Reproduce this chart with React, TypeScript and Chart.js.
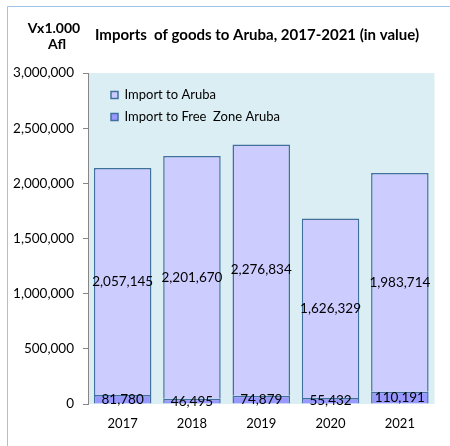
import React, { useEffect, useRef } from "react";
import { Chart, registerables } from "chart.js";

Chart.register(...registerables);

const years = ["2017", "2018", "2019", "2020", "2021"];
const importAruba = [2057145, 2201670, 2276834, 1626329, 1983714];
const importFreeZone = [81780, 46495, 74879, 55432, 110191];
const seriesNames = ["Import to Free  Zone Aruba", "Import to Aruba"];
const yMax = 3000000;
const yStep = 500000;
const titleText = "Imports  of goods to Aruba, 2017-2021 (in value)";
const unitTop = "Vx1.000";
const unitBottom = "Afl";

const FONT = "Lato, 'Liberation Sans', sans-serif";
const fmt = (v: number) => v.toLocaleString("en-US");

const decorPlugin = {
  id: "decor",
  afterLayout(chart: any) {
    const lg = chart.legend;
    const a = chart.chartArea;
    if (lg && a) {
      const h = lg.bottom - lg.top;
      lg.left = a.left + 14;
      lg.top = a.top + 6.5;
      lg.bottom = lg.top + h;
    }
  },
  beforeDraw(chart: any) {
    const { ctx, chartArea: a } = chart;
    ctx.save();
    ctx.fillStyle = "#ffffff";
    ctx.fillRect(0, 0, chart.width, chart.height);
    ctx.fillStyle = "#dbeef4";
    ctx.fillRect(a.left, a.top, a.right - a.left, a.bottom - a.top);
    ctx.strokeStyle = "#9dc3e6";
    ctx.lineWidth = 1;
    ctx.beginPath();
    ctx.moveTo(7.5, chart.height);
    ctx.lineTo(7.5, 6.5);
    ctx.lineTo(chart.width, 6.5);
    ctx.stroke();
    ctx.fillStyle = "#000000";
    ctx.font = `bold 15px ${FONT}`;
    ctx.textBaseline = "middle";
    ctx.textAlign = "left";
    ctx.fillText(titleText, 95, 35);
    ctx.font = `bold 14px ${FONT}`;
    ctx.textAlign = "center";
    ctx.fillText(unitTop, 54, 28);
    ctx.fillText(unitBottom, 57, 44);
    ctx.restore();
  },
  afterDatasetsDraw(chart: any) {
    const { ctx } = chart;
    ctx.save();
    ctx.fillStyle = "#000000";
    ctx.font = `13.5px ${FONT}`;
    ctx.textAlign = "center";
    ctx.textBaseline = "middle";
    chart.data.datasets.forEach((ds: any, i: number) => {
      const meta = chart.getDatasetMeta(i);
      meta.data.forEach((bar: any, j: number) => {
        const y = (bar.y + bar.base) / 2;
        ctx.fillText(fmt(ds.data[j]), bar.x, y);
      });
    });
    ctx.restore();
  },
};

export default function App() {
  const ref = useRef<HTMLCanvasElement | null>(null);
  useEffect(() => {
    document.body.style.margin = "0";
    const canvas = ref.current;
    if (!canvas) return;
    const border = "#41709c";
    const chart = new Chart(canvas, {
      type: "bar",
      data: {
        labels: years,
        datasets: [
          {
            label: seriesNames[0],
            data: importFreeZone,
            backgroundColor: "#9999ff",
            borderColor: border,
            borderWidth: 1.5,
            barPercentage: 0.83,
            categoryPercentage: 1,
          },
          {
            label: seriesNames[1],
            data: importAruba,
            backgroundColor: "#ccccff",
            borderColor: border,
            borderWidth: 1.5,
            barPercentage: 0.83,
            categoryPercentage: 1,
          },
        ],
      },
      options: {
        responsive: false,
        animation: false,
        layout: { padding: { left: 0, top: 73, right: 15.5, bottom: 0 } },
        plugins: {
          legend: {
            position: "chartArea" as any,
            align: "start",
            reverse: true,
            labels: {
              boxWidth: 7,
              boxHeight: 7,
              color: "#000000",
              font: { family: FONT, size: 13 },
              padding: 9,
            },
          },
          title: { display: false },
          tooltip: { enabled: false },
        },
        scales: {
          x: {
            stacked: true,
            grid: { display: false, drawTicks: false },
            border: { display: false },
            ticks: { color: "#000000", font: { family: FONT, size: 13 }, padding: 12 },
            afterFit: (s: any) => {
              s.height = 42;
            },
          },
          y: {
            stacked: true,
            min: 0,
            max: yMax,
            grid: { drawOnChartArea: false, drawTicks: true, tickLength: 5, color: "#868686" },
            border: { display: true, color: "#868686", width: 1 },
            ticks: {
              stepSize: yStep,
              color: "#000000",
              font: { family: FONT, size: 13.5 },
              padding: 9,
              callback: (v: any) => fmt(Number(v)),
            },
            afterFit: (s: any) => {
              s.width = 88;
            },
          },
        },
      },
      plugins: [decorPlugin],
    });
    return () => chart.destroy();
  }, []);
  return (
    <div style={{ width: 450, height: 446 }}>
      <canvas ref={ref} width={450} height={446} />
    </div>
  );
}
